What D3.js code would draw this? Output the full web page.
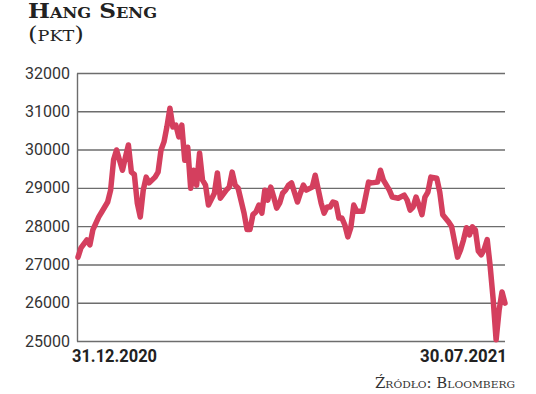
<!DOCTYPE html>
<html>
<head>
<meta charset="utf-8">
<script src="https://cdn.jsdelivr.net/npm/d3@7/dist/d3.min.js"></script>
<style>
  body { margin: 0; background: #fff; }
</style>
</head>
<body>
<script>
// trading sessions since 31.12.2020 and index close
var sessions = [0,1,3,4,5,7,8,10,11,12,13,15,16,17,18,19,20,21,22,23,24,26,27,28,29,30,31,32,33,34,35,36,37,38,39,40,41,42,43,44,46,47,48,50,51,52,53,54,56,57,58,59,60,61,62,63,64,65,66,67,68,69,70,71,72,74,75,76,77,79,80,82,83,84,85,86,87,88,89,90,91,92,93,94,96,98,99,101,102,103,105,106,108,110,111,112,113,114,115,116,117,118,119,121,122,123,125,126,128,129,130,131,132,133,134,135,136,137,138,139,140,141,142,143,144];
var closes = [27190,27430,27640,27510,27900,28240,28370,28630,28940,29730,29990,29460,29800,30120,29410,29350,28600,28240,28940,29280,29130,29280,29410,29990,30200,30600,31080,30590,30640,30330,30640,29720,30060,28990,29460,29070,29910,29200,29070,28550,28860,29390,28730,28940,29020,29410,29070,28990,28340,27910,27910,28300,28370,28550,28340,28940,28680,29020,28760,28470,28600,28860,28940,29070,29130,28630,28860,29070,28940,29020,29330,28600,28340,28500,28500,28630,28600,28210,28210,28030,27720,27960,28550,28390,28390,29150,29130,29150,29460,29200,28940,28760,28730,28810,28680,28420,28500,28760,28550,28300,28760,28890,29280,29250,28890,28300,28110,27990,27190,27380,27640,27960,27770,27980,27900,27350,27250,27400,27650,26950,26100,25030,25800,26280,25990];
var yTicks = [25000,26000,27000,28000,29000,30000,31000,32000];
var xLabels = ["31.12.2020","30.07.2021"];

var w = 536;
var h = 394;

var svg = d3.select("body")
    .append("svg")
    .attr("width", w)
    .attr("height", h);

var x = d3.scaleLinear().domain([0, 144]).range([78, 505]);
var y = d3.scaleLinear().domain([25000, 32000]).range([341, 73]);

// title
svg.append("text")
    .attr("x", 28).attr("y", 18)
    .attr("textLength", 129).attr("lengthAdjust", "spacingAndGlyphs")
    .style("font-family", "'DejaVu Serif', serif")
    .style("font-weight", "bold")
    .style("font-variant", "small-caps")
    .style("font-size", "20px")
    .attr("fill", "#222")
    .text("Hang Seng");

svg.append("text")
    .attr("x", 28).attr("y", 41)
    .attr("textLength", 56).attr("lengthAdjust", "spacingAndGlyphs")
    .style("font-family", "'DejaVu Serif', serif")
    .style("font-variant", "small-caps")
    .style("font-size", "21px")
    .attr("fill", "#222")
    .text("(pkt)");

// y axis with grid
var yAxis = svg.append("g")
    .attr("transform", "translate(77,0)")
    .call(d3.axisLeft(y)
        .tickValues(yTicks)
        .tickFormat(d3.format("d"))
        .tickSizeInner(-(505 - 77))
        .tickSizeOuter(0)
        .tickPadding(7));

yAxis.selectAll("line").attr("stroke", "#6d6d6d").attr("stroke-width", 1.4);
yAxis.select(".domain").attr("stroke", "#6d6d6d").attr("stroke-width", 1.4);
yAxis.selectAll("text")
    .style("font-family", "Roboto, sans-serif")
    .style("font-size", "16px")
    .attr("fill", "#333");

// line
var line = d3.line()
    .x(function (d, i) { return x(sessions[i]); })
    .y(function (d) { return y(d); });

svg.append("path")
    .datum(closes)
    .attr("d", line)
    .attr("fill", "none")
    .attr("stroke", "#d43f5e")
    .attr("stroke-width", 5.5)
    .attr("stroke-linejoin", "round")
    .attr("stroke-linecap", "round");

// date labels
svg.append("text")
    .attr("x", 72).attr("y", 362)
    .attr("textLength", 85).attr("lengthAdjust", "spacingAndGlyphs")
    .style("font-family", "Roboto, sans-serif")
    .style("font-weight", "bold")
    .style("font-size", "19px")
    .attr("fill", "#222")
    .text(xLabels[0]);

svg.append("text")
    .attr("x", 420).attr("y", 362)
    .attr("textLength", 87).attr("lengthAdjust", "spacingAndGlyphs")
    .style("font-family", "Roboto, sans-serif")
    .style("font-weight", "bold")
    .style("font-size", "19px")
    .attr("fill", "#222")
    .text(xLabels[1]);

// source
svg.append("text")
    .attr("x", 375).attr("y", 388)
    .attr("textLength", 140).attr("lengthAdjust", "spacingAndGlyphs")
    .style("font-family", "'DejaVu Serif', serif")
    .style("font-variant", "small-caps")
    .style("font-size", "14px")
    .attr("fill", "#333")
    .text("Źródło: Bloomberg");
</script>
</body>
</html>
